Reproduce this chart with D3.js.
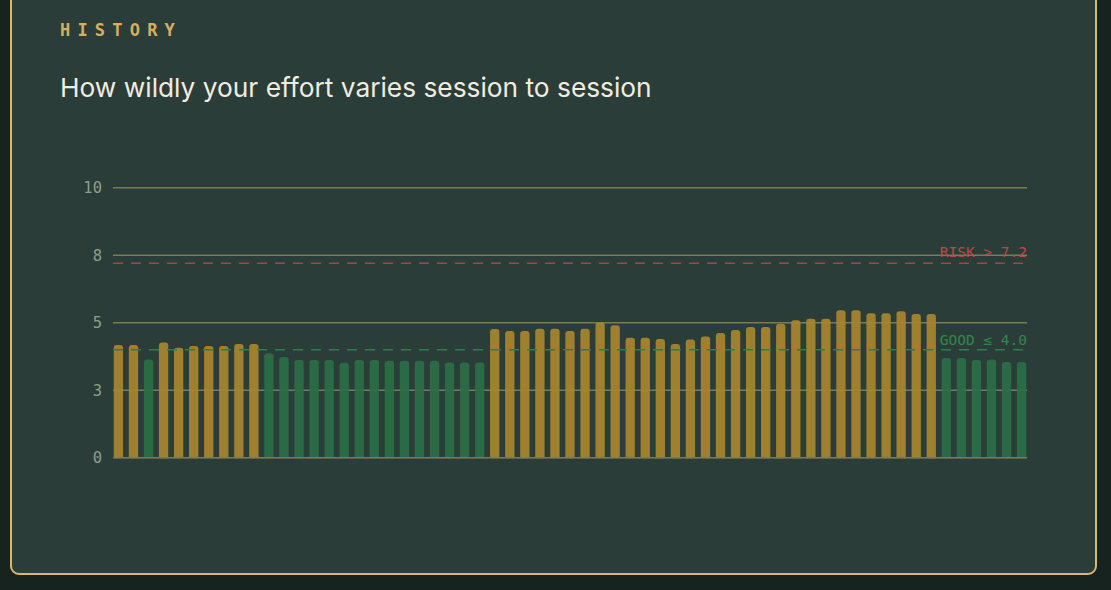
<!DOCTYPE html>
<html>
<head>
<meta charset="utf-8">
<script src="https://cdn.jsdelivr.net/npm/d3@7"></script>
<style>
  html, body { margin: 0; padding: 0; background: #17231f; }
  body { width: 1111px; height: 590px; overflow: hidden; position: relative; }
  .card {
    position: absolute; left: 9.5px; top: -20px; width: 1087px; height: 595px;
    background: #2b3d38; border: 2px solid #dbb870; border-radius: 9px;
    box-sizing: border-box;
  }
  .kicker {
    position: absolute; left: 48.5px; top: 38px;
    font-family: "DejaVu Sans Mono", monospace;
    font-weight: bold; font-size: 17px; letter-spacing: 7.2px; color: #d6ad62;
  }
  .title {
    position: absolute; left: 48.5px; top: 90px;
    font-family: "Inter", sans-serif; font-size: 26.3px; color: #f1ece0;
  }
  #chart { position: absolute; left: -11.5px; top: 38px; }
</style>
</head>
<body>
<div class="card">
  <div class="kicker">HISTORY</div>
  <div class="title">How wildly your effort varies session to session</div>
  <div id="chart"></div>
</div>
<script>
// session index -> effort variability score
const values = [
  4.17, 4.17, 3.64, 4.27, 4.07, 4.14, 4.14, 4.14, 4.21, 4.21,
  3.87, 3.73, 3.62, 3.62, 3.62, 3.52, 3.62, 3.62, 3.59, 3.59,
  3.59, 3.59, 3.53, 3.53, 3.53, 4.77, 4.69, 4.69, 4.78, 4.78,
  4.69, 4.78, 5.01, 4.91, 4.44, 4.44, 4.40, 4.21, 4.38, 4.49,
  4.62, 4.73, 4.84, 4.84, 4.96, 5.09, 5.15, 5.15, 5.46, 5.46,
  5.35, 5.35, 5.42, 5.32, 5.32, 3.69, 3.69, 3.62, 3.64, 3.54,
  3.54
];
const sessions = values.map((v, i) => i + 1);
const yTicks = [0, 2.5, 5, 7.5, 10];
const riskLevel = 7.2;
const goodLevel = 4.0;

const width = 1111, height = 570;
const margin = { top: 167.7, right: 84, bottom: 132.3, left: 113 };

const svg = d3.select("#chart").append("svg")
    .attr("width", width)
    .attr("height", height);

const x = d3.scaleBand()
    .domain(sessions)
    .range([margin.left, width - margin.right])
    .paddingInner(0.38)
    .paddingOuter(0.05);

const y = d3.scaleLinear()
    .domain([0, 10])
    .range([height - margin.bottom, margin.top]);

// gridlines
svg.append("g")
    .selectAll("line")
    .data(yTicks)
    .join("line")
    .attr("x1", margin.left)
    .attr("x2", width - margin.right)
    .attr("y1", d => y(d))
    .attr("y2", d => y(d))
    .attr("stroke", "#7b7b57")
    .attr("stroke-width", 1.5);

// tick labels
svg.append("g")
    .selectAll("text")
    .data(yTicks)
    .join("text")
    .attr("x", margin.left - 11)
    .attr("y", d => y(d))
    .attr("dy", "0.36em")
    .attr("text-anchor", "end")
    .attr("font-family", "DejaVu Sans Mono, monospace")
    .attr("font-size", 15.5)
    .attr("fill", "#8c9f8a")
    .text(d => d3.format(".0f")(d));

const colorOf = v => v > riskLevel ? "#b04848" : v > goodLevel ? "#a8862e" : "#2a6e47";

svg.append("g")
    .selectAll("rect")
    .data(values)
    .join("rect")
    .attr("x", (d, i) => x(sessions[i]))
    .attr("width", x.bandwidth())
    .attr("y", d => y(d))
    .attr("height", d => y(0) - y(d) + 2)
    .attr("rx", 3)
    .attr("fill", colorOf)
    .attr("opacity", 0.92);

// cover the rounded bottom of the bars
svg.append("line")
    .attr("x1", margin.left).attr("x2", width - margin.right)
    .attr("y1", y(0) + 1.5).attr("y2", y(0) + 1.5)
    .attr("stroke", "#2b3d38").attr("stroke-width", 2);
svg.append("line")
    .attr("x1", margin.left).attr("x2", width - margin.right)
    .attr("y1", y(0)).attr("y2", y(0))
    .attr("stroke", "#7b7b57").attr("stroke-width", 1.5);

// reference lines
const refs = [
  { v: riskLevel, label: "RISK > 7.2", line: "#a44545", text: "#bf4646", dy: -6 },
  { v: goodLevel, label: "GOOD \u2264 4.0", line: "#2f7d4c", text: "#33854f", dy: -5 }
];

const ref = svg.append("g").selectAll("g").data(refs).join("g");
ref.append("line")
    .attr("x1", margin.left)
    .attr("x2", width - margin.right)
    .attr("y1", d => y(d.v))
    .attr("y2", d => y(d.v))
    .attr("stroke", d => d.line)
    .attr("stroke-width", 1.5)
    .attr("stroke-dasharray", "10 8");
ref.append("text")
    .attr("x", width - margin.right)
    .attr("y", d => y(d.v) + d.dy)
    .attr("text-anchor", "end")
    .attr("font-family", "DejaVu Sans Mono, monospace")
    .attr("font-size", 14.5)
    .attr("fill", d => d.text)
    .text(d => d.label);
</script>
</body>
</html>
